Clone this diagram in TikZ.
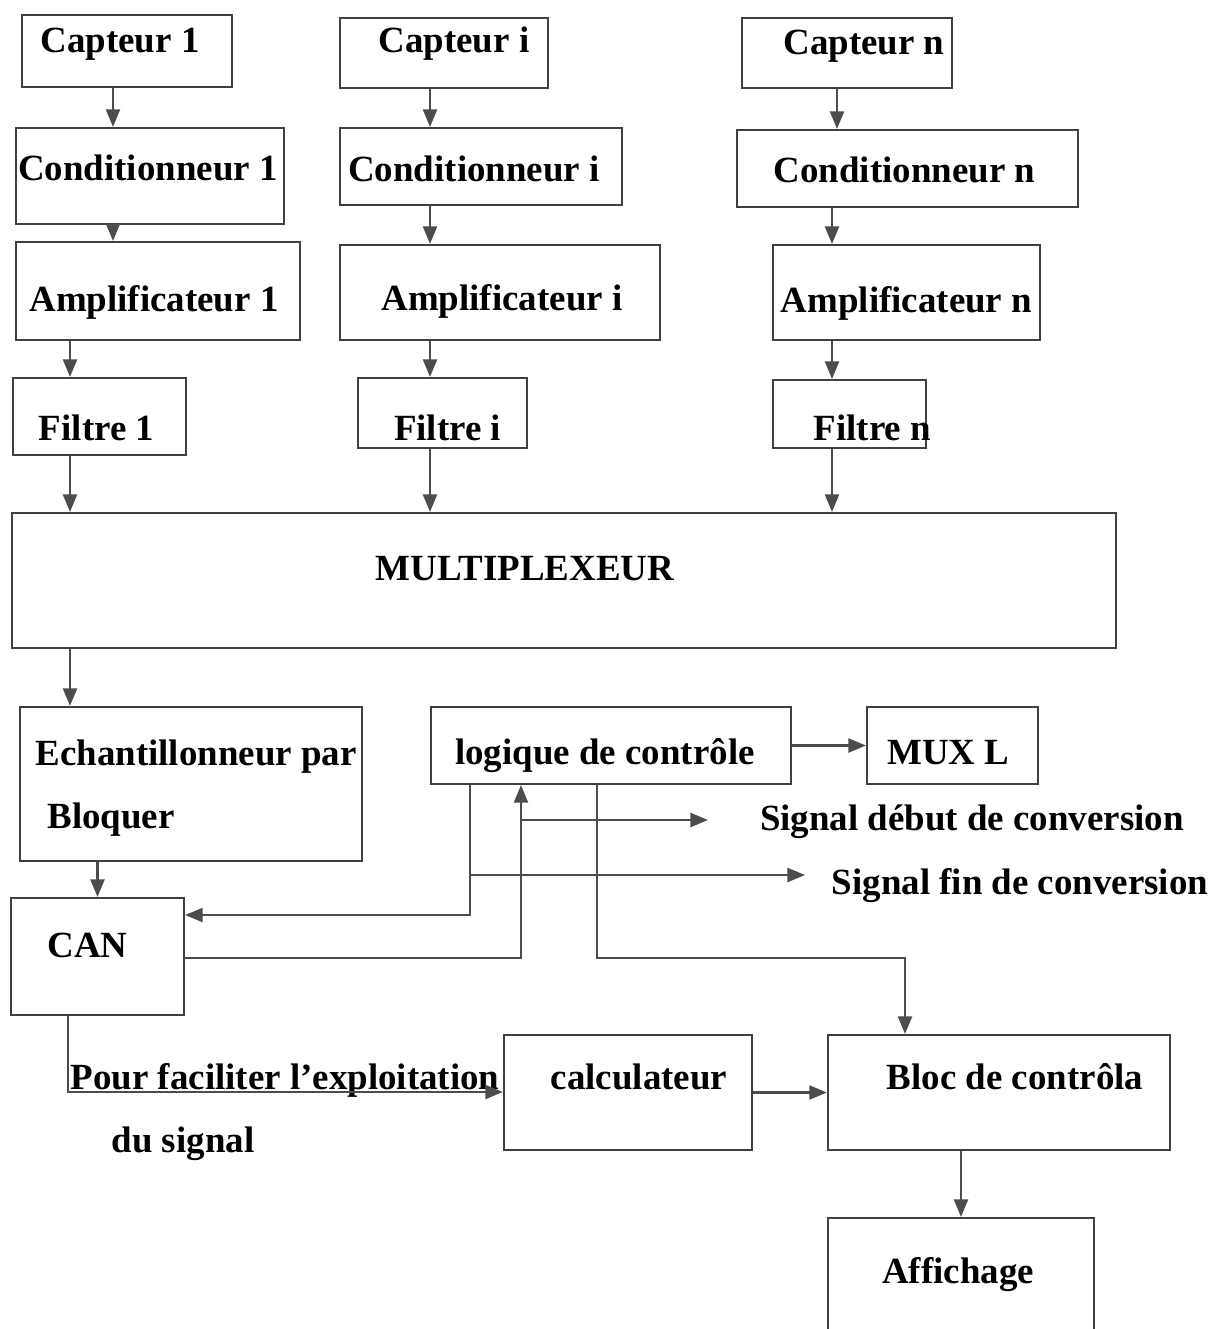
\documentclass[tikz,border=0pt]{standalone}
\usepackage{fontspec}
\setmainfont{Liberation Serif}
\usetikzlibrary{arrows.meta}
\tikzset{box/.style={draw=black!75,line width=0.6pt,rectangle,inner sep=0pt},
         arr/.style={draw=black!70,line width=0.6pt,-{Triangle[length=5pt,width=4pt]}}}

\begin{document}
\begin{tikzpicture}[x=0.01cm,y=-0.01cm,font=\bfseries\fontsize{10.5}{13}\selectfont]
\useasboundingbox (0,0) rectangle (1220,1329);

% voies de mesure
\node at (127,51) [box,minimum width=2.10cm,minimum height=0.72cm] (cap1) [label={[shift={(-7,-7)}]center:Capteur 1}] {};
\node at (444,53) [box,minimum width=2.08cm,minimum height=0.70cm] (capi) [label={[shift={(10,-9)}]center:Capteur i}] {};
\node at (847,53) [box,minimum width=2.10cm,minimum height=0.70cm] (capn) [label={[shift={(17,-7)}]center:Capteur n}] {};
\node at (150,176) [box,minimum width=2.68cm,minimum height=0.96cm] (cond1) [label={[shift={(-2,-8)}]center:Conditionneur 1}] {};
\node at (481,166.5) [box,minimum width=2.82cm,minimum height=0.77cm] (condi) [label={[shift={(-7,2)}]center:Conditionneur i}] {};
\node at (907.5,168.5) [box,minimum width=3.41cm,minimum height=0.77cm] (condn) [label={[shift={(-3,1)}]center:Conditionneur n}] {};
\node at (158,291) [box,minimum width=2.84cm,minimum height=0.98cm] (amp1) [label={[shift={(-4,11)}]center:Amplificateur 1}] {};
\node at (500,292.5) [box,minimum width=3.20cm,minimum height=0.95cm] (ampi) [label={[shift={(2,9)}]center:Amplificateur i}] {};
\node at (906.5,292.5) [box,minimum width=2.67cm,minimum height=0.95cm] (ampn) [label={[shift={(0,11)}]center:Amplificateur n}] {};
\node at (99.5,416.5) [box,minimum width=1.73cm,minimum height=0.77cm] (fil1) [label={[shift={(-3,11)}]center:Filtre 1}] {};
\node at (442.5,413) [box,minimum width=1.69cm,minimum height=0.70cm] (fili) [label={[shift={(5,15)}]center:Filtre i}] {};
\node at (849.5,414) [box,minimum width=1.53cm,minimum height=0.68cm] (filn) [label={[shift={(23,14)}]center:Filtre n}] {};
\node at (564,580.5) [box,minimum width=11.04cm,minimum height=1.35cm] (mux) [label={[shift={(-39,-12)}]center:MULTIPLEXEUR}] {};

% acquisition et controle
\node at (191,784) [box,minimum width=3.42cm,minimum height=1.54cm] (ech) [label={[shift={(5,4)},align=left]center:Echantillonneur par\\[5pt]\hspace*{0.12cm}Bloquer}] {};
\node at (611,745.5) [box,minimum width=3.60cm,minimum height=0.77cm] (log) [label={[shift={(-6,10)}]center:logique de contrôle}] {};
\node at (952.5,745.5) [box,minimum width=1.71cm,minimum height=0.77cm] (muxl) [label={[shift={(-4,7)}]center:MUX L}] {};
\node at (97.5,956.5) [box,minimum width=1.73cm,minimum height=1.17cm] (can) [label={[shift={(-10,-11)}]center:CAN}] {};
\node at (628,1092.5) [box,minimum width=2.48cm,minimum height=1.15cm] (calc) [label={[shift={(11,-16)}]center:calculateur}] {};
\node at (999,1092.5) [box,minimum width=3.42cm,minimum height=1.15cm] (bloc) [label={[shift={(16,-16)}]center:Bloc de contrôla}] {};
\node at (961,1289) [box,minimum width=2.66cm,minimum height=1.42cm] (aff) [label={[shift={(-3,-14)}]center:Affichage}] {};

\node at (285,1080) (pour) {Pour faciliter l'exploitation};
\node at (183,1144) (dusig) {du signal};
\node at (972,822) (debut) {Signal début de conversion};
\node at (1020,886) (fin) {Signal fin de conversion};

\coordinate (ka) at (113,0);
\coordinate (kb) at (70,0);
\coordinate (kc) at (430,0);
\coordinate (kd) at (837,0);
\coordinate (ke) at (832,0);
\coordinate (sa) at (470,915);
\coordinate (sb) at (521,958);
\coordinate (sc) at (597,958);
\coordinate (sd) at (905,958);
\coordinate (se) at (68,1092);
\coordinate (debend) at (708,820);
\coordinate (finend) at (805,875);

\draw[arr] (cap1.south -| ka) -- (cond1.north -| ka);
\draw[arr] (cond1.south -| ka) -- (amp1.north -| ka);
\draw[arr] (amp1.south -| kb) -- (fil1.north -| kb);
\draw[arr] (fil1.south -| kb) -- (mux.north -| kb);
\draw[arr] (capi.south -| kc) -- (condi.north -| kc);
\draw[arr] (condi.south -| kc) -- (ampi.north -| kc);
\draw[arr] (ampi.south -| kc) -- (fili.north -| kc);
\draw[arr] (fili.south -| kc) -- (mux.north -| kc);
\draw[arr] (capn.south -| kd) -- (condn.north -| kd);
\draw[arr] (condn.south -| ke) -- (ampn.north -| ke);
\draw[arr] (ampn.south -| ke) -- (filn.north -| ke);
\draw[arr] (filn.south -| ke) -- (mux.north -| ke);

\draw[arr] (mux.south -| kb) -- (ech.north -| kb);
\draw[arr] (ech.south -| can) -- (can.north);
\draw[arr] (log) -- (muxl);
\draw[arr] (log.south -| sa) -- (sa) -- (can.east |- sa);
\draw[arr] (can.east |- sb) -- (sb) -- (log.south -| sb);
\draw[arr] (sb |- debend) -- (debend);
\draw[arr] (sa |- finend) -- (finend);
\draw[arr] (log.south -| sc) -- (sc) -- (sd) -- (bloc.north -| sd);
\draw[arr] (can.south -| se) -- (se) -- (calc.west |- se);
\draw[arr] (calc) -- (bloc);
\draw[arr] (bloc.south -| aff) -- (aff.north);
\end{tikzpicture}
\end{document}
